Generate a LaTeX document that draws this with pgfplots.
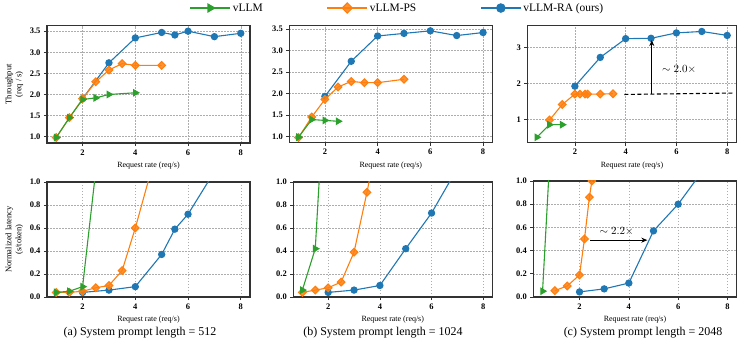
\documentclass[border=0pt]{standalone}
\usepackage{fontspec}
\setmainfont{Liberation Serif}
\usepackage{pgfplots}
\pgfplotsset{compat=1.18}
\usetikzlibrary{arrows.meta}
\definecolor{cRA}{HTML}{1F77B4}
\definecolor{cPS}{HTML}{FF7F0E}
\definecolor{cVL}{HTML}{2CA02C}
\pgfplotsset{
 base/.style={scale only axis, anchor=south west,
  axis line style={draw=black!80, line width=1.1bp},
  tick align=outside, tick pos=left, major tick length=3bp,
  tick style={black!80, line width=0.6bp},
  xmajorgrids, ymajorgrids,
  major grid style={black!32, line width=0.5bp, dash pattern=on 1.5bp off 1.5bp},
  tick label style={font=\fontsize{8.5}{9}\selectfont\bfseries},
  /pgf/number format/assume math mode=true,
  label style={font=\fontsize{8}{9.5}\selectfont},
  ylabel style={font=\fontsize{8.5}{10}\selectfont},
  xlabel={Request rate (req/s)},
  xtick={2,4,6,8}, xmin=0.65, xmax=8.35,
  clip marker paths=true,
 },
 thr/.style={ytick={1.0,1.5,2.0,2.5,3.0,3.5},
  yticklabel style={/pgf/number format/fixed, /pgf/number format/precision=1, /pgf/number format/fixed zerofill}},
 lat/.style={ymin=0, ymax=1, ytick={0,0.2,0.4,0.6,0.8,1.0},
  yticklabel style={/pgf/number format/fixed, /pgf/number format/precision=1, /pgf/number format/fixed zerofill}},
 ra/.style={color=cRA, line width=1.1bp, mark=*, mark size=3.1bp, mark options={solid, fill=cRA}},
 ps/.style={color=cPS, line width=1.1bp, mark=square*, mark size=2.7bp, mark options={solid, rotate=45, fill=cPS, fill opacity=0.85}},
 vl/.style={color=cVL, line width=1.1bp, mark=triangle*, mark size=3.5bp, mark options={solid, rotate=-90, fill=cVL}},
}
\begin{document}
\begin{tikzpicture}
\useasboundingbox (0,0) rectangle (747bp,342bp);
% ---------- (a) throughput
\begin{axis}[base, thr, at={(47bp,199bp)}, width=203bp, height=117.3bp, ymin=0.85, ymax=3.63,
  ylabel={Throughput\\(req / s)}, ylabel style={align=center}]
\addplot[ra] coordinates {(2,1.9)(3,2.75)(4,3.34)(5,3.47)(5.5,3.41)(6,3.5)(7,3.37)(8,3.45)};
\addplot[ps] coordinates {(1,0.98)(1.5,1.45)(2,1.9)(2.5,2.3)(3,2.58)(3.5,2.73)(4,2.69)(5,2.69)};
\addplot[vl] coordinates {(1,0.98)(1.5,1.45)(2,1.88)(2.5,1.92)(3,2.0)(4,2.04)};
\end{axis}
% ---------- (a) latency
\begin{axis}[base, lat, at={(47bp,45bp)}, width=203bp, height=115bp,
  ylabel={Normalized latency\\(s/token)}, ylabel style={align=center}]
\addplot[ra] coordinates {(2,0.04)(3,0.06)(4,0.09)(5,0.37)(5.5,0.59)(6,0.72)(7,1.09)(8,1.5)};
\addplot[ps] coordinates {(1,0.04)(1.5,0.04)(2,0.05)(2.5,0.08)(3,0.1)(3.5,0.23)(4,0.6)(5,1.43)};
\addplot[vl] coordinates {(1,0.04)(1.5,0.05)(2,0.09)(2.5,1.1)(3,2.0)(4,3.0)};
\end{axis}
% ---------- (b) throughput
\begin{axis}[base, thr, at={(289.3bp,199.3bp)}, width=203bp, height=117bp, ymin=0.85, ymax=3.58]
\addplot[ra] coordinates {(2,1.93)(3,2.75)(4,3.34)(5,3.4)(6,3.46)(7,3.35)(8,3.42)};
\addplot[ps] coordinates {(1,0.97)(1.5,1.45)(2,1.86)(2.5,2.15)(3,2.28)(3.5,2.25)(4,2.25)(5,2.33)};
\addplot[vl] coordinates {(1,0.98)(1.5,1.39)(2,1.37)(2.5,1.35)};
\end{axis}
% ---------- (b) latency
\begin{axis}[base, lat, at={(293.3bp,45bp)}, width=199bp, height=115bp]
\addplot[ra] coordinates {(2,0.04)(3,0.06)(4,0.10)(5,0.42)(6,0.73)(7,1.12)(8,1.5)};
\addplot[ps] coordinates {(1,0.04)(1.5,0.06)(2,0.08)(2.5,0.13)(3,0.39)(3.5,0.91)(4,1.47)(5,2.5)};
\addplot[vl] coordinates {(1,0.06)(1.5,0.42)(2,2.37)(2.5,3.5)};
\end{axis}
% ---------- (c) throughput
\begin{axis}[base, at={(527.3bp,199.3bp)}, width=209.4bp, height=117bp, xmin=0.125, xmax=8.375,
  ymin=0.35, ymax=3.6, ytick={1,2,3}]
\addplot[ra] coordinates {(2,1.92)(3,2.72)(4,3.24)(5,3.25)(6,3.4)(7,3.44)(8,3.33)};
\addplot[ps] coordinates {(1,0.98)(1.5,1.41)(2,1.7)(2.2,1.7)(2.4,1.7)(2.5,1.7)(3,1.7)(3.5,1.71)};
\addplot[vl] coordinates {(0.5,0.5)(1,0.85)(1.5,0.85)};
\draw[black, line width=1.1bp, dash pattern=on 4bp off 2.5bp] (axis cs:3.95,1.69) -- (axis cs:8.3,1.73);
\draw[black, line width=1.1bp, -{Stealth[length=6bp,width=5bp]}] (axis cs:5.03,1.70) -- (axis cs:5.03,3.2);
\node[font=\fontsize{10.5}{12}\selectfont, anchor=west] at (axis cs:5.3,2.39) {$\sim 2.0\times$};
\end{axis}
% ---------- (c) latency
\begin{axis}[base, lat, at={(533.3bp,45bp)}, width=203.4bp, height=116bp, xmin=0.125, xmax=8.375]
\addplot[ra] coordinates {(2,0.044)(3,0.07)(4,0.12)(5,0.57)(6,0.8)(7,1.09)(8,1.5)};
\addplot[ps] coordinates {(1,0.055)(1.5,0.095)(2,0.19)(2.2,0.5)(2.4,0.86)(2.5,1.0)(3,2.0)(3.5,3.0)};
\addplot[vl] coordinates {(0.5,0.05)(1,2.0)(1.5,3.0)};
\draw[black, line width=1.1bp, -{Stealth[length=6bp,width=5bp]}] (axis cs:2.43,0.49) -- (axis cs:4.75,0.49);
\node[font=\fontsize{10.5}{12}\selectfont] at (axis cs:3.5,0.565) {$\sim 2.2\times$};
\end{axis}
% ---------- legend
\begin{axis}[at={(289.3bp,199.3bp)}, anchor=south west, scale only axis, width=203bp, height=117bp,
  hide axis, xmin=0, xmax=1, ymin=0, ymax=1,
  legend columns=3,
  legend style={at={(0.533,1.151)}, anchor=center, draw=none, fill=none,
    font=\fontsize{11.5}{13}\selectfont,
    /tikz/every even column/.append style={column sep=62bp}},
  legend image code/.code={\draw[mark repeat=2, mark phase=2] plot coordinates {(0bp,0bp)(20bp,0bp)(40bp,0bp)};}]
\addlegendimage{vl, mark size=4.5bp}
\addlegendentry{vLLM}
\addlegendimage{ps, mark size=3.6bp}
\addlegendentry{vLLM-PS}
\addlegendimage{ra, mark size=4.2bp}
\addlegendentry{vLLM-RA (ours)}
\end{axis}
% ---------- captions
\node[font=\fontsize{12}{14}\selectfont] at (140bp,9bp) {(a) System prompt length = 512};
\node[font=\fontsize{12}{14}\selectfont] at (383bp,9bp) {(b) System prompt length = 1024};
\node[font=\fontsize{12}{14}\selectfont] at (643bp,9bp) {(c) System prompt length = 2048};
\end{tikzpicture}
\end{document}
